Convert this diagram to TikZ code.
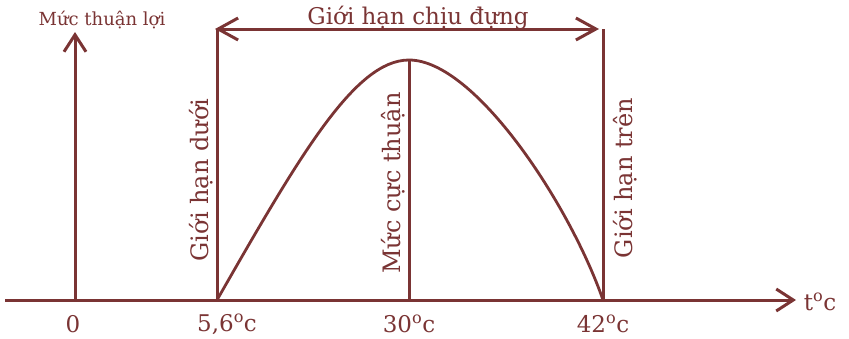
\documentclass[tikz,border=0pt]{standalone}
\usepackage{fontspec}
\setmainfont{DejaVu Serif}
\usetikzlibrary{arrows.meta}
\definecolor{br}{RGB}{122,52,52}
\begin{document}
\begin{tikzpicture}[x=1pt,y=-1pt,
  ln/.style={draw=br, line width=3pt},
  barb/.style={-{Straight Barb[length=17pt,width=22pt,line width=3pt]}},
  dbarb/.style={{Straight Barb[length=20pt,width=22pt,line width=3pt]}-{Straight Barb[length=20pt,width=22pt,line width=3pt]}},
  lbl/.style={text=br, font=\fontsize{23}{26}\selectfont, inner sep=0pt},
  vlbl/.style={lbl, rotate=90, font=\fontsize{24}{28}\selectfont}]
\useasboundingbox (0,0) rectangle (849,338);
% axes
\coordinate (xs) at (5,300);
\coordinate (xe) at (796,300);
\coordinate (o) at (75,300);
\coordinate (ye) at (75,32);
\draw[ln,barb] (xs) -- (xe);
\draw[ln,barb] (o) -- (ye);
% limits
\coordinate (lb) at (217,300);
\coordinate (lt) at (217,29);
\coordinate (rb) at (603,300);
\coordinate (rt) at (603,29);
\coordinate (mb) at (409,300);
\coordinate (pk) at (409,60);
\coordinate (al) at (215,29);
\coordinate (ar) at (599,29);
\draw[ln] (lb) -- (lt);
\draw[ln] (rb) -- (rt);
\draw[ln] (mb) -- (pk);
\draw[ln,dbarb] (al) -- (ar);
% curve
\draw[ln, line width=2.8pt] (lb) .. controls (300,155) and (355,60) .. (pk)
  .. controls (475,60) and (570,205) .. (rb);
% labels
\node[lbl, font=\fontsize{18}{20}\selectfont] (ylab) at (102,20) {Mức thuận lợi};
\node[lbl] (top) at (418,18) {Giới hạn chịu đựng};
\node[lbl] (tlab) at (820,302) {t\textsuperscript{o}c};
\node[lbl] (l0) at (73,324) {0};
\node[lbl] (l1) at (227,324) {5,6\textsuperscript{o}c};
\node[lbl] (l2) at (409,324) {30\textsuperscript{o}c};
\node[lbl] (l3) at (603,324) {42\textsuperscript{o}c};
\node[vlbl] (v1) at (201,180) {Giới hạn dưới};
\node[vlbl] (v2) at (393,183) {Mức cực thuận};
\node[vlbl] (v3) at (625,178) {Giới hạn trên};
\end{tikzpicture}
\end{document}
